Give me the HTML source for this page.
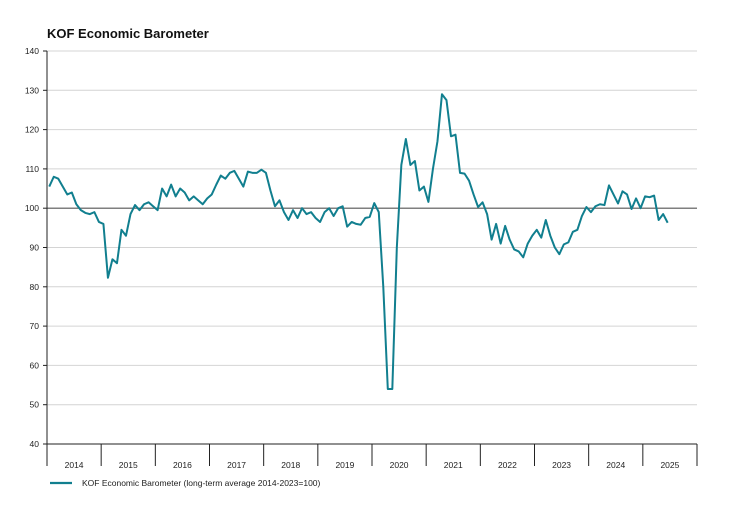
<!DOCTYPE html>
<html><head><meta charset="utf-8"><style>
body{margin:0;background:#fff;font-family:"Liberation Sans",Arial,sans-serif}
svg text{font-family:"Liberation Sans",Arial,sans-serif}
</style></head><body>
<svg id="c" width="739" height="505">
<text x="47" y="38" font-size="13" font-weight="bold" fill="#111">KOF Economic Barometer</text>
<g id="grid"></g><g id="axes"></g><g id="series"></g>
<g>
<line x1="50" y1="483" x2="72" y2="483" stroke="#117f8f" stroke-width="2.2"/>
<text x="82" y="486" font-size="8.5" fill="#222">KOF Economic Barometer (long-term average 2014-2023=100)</text>
</g>
</svg>
<script>
const years=["2014","2015","2016","2017","2018","2019","2020","2021","2022","2023","2024","2025"];
const yTicks=[40,50,60,70,80,90,100,110,120,130,140];
const values=[
105.5,108,107.5,105.5,103.5,104,101,99.5,98.8,98.5,99,96.5,
96,82.3,87,86,94.5,93,98.5,100.8,99.5,101,101.5,100.5,
99.5,105,103,106,103,105,104,102,103,102,101,102.5,
103.5,106,108.3,107.5,109,109.5,107.5,105.5,109.3,109,109,109.8,
109,104.5,100.5,102,99,97,99.5,97.5,100,98.5,99,97.5,
96.5,99,100,98,100,100.5,95.3,96.5,96,95.8,97.5,97.8,
101.3,99,80,54,54,90,111,117.6,111,112,104.5,105.5,
101.6,110,117,129,127.5,118.3,118.7,109,108.8,107,103.5,100.3,
101.5,98.5,92,96,91,95.5,92,89.5,89,87.5,91,93,
94.5,92.5,97,93,90,88.3,90.8,91.3,94,94.5,98,100.3,
99,100.5,101,100.8,105.8,103.5,101.2,104.3,103.5,99.8,102.5,100,
103,102.8,103.2,97,98.5,96.3];
const L=47,R=697,T=51,B=444,NS="http://www.w3.org/2000/svg";
const months=years.length*12;
const xs=i=>L+(i+0.5)*(R-L)/months;
const ys=v=>B-(v-40)/100*(B-T);
function mk(t,a,p){const e=document.createElementNS(NS,t);for(const k in a)e.setAttribute(k,a[k]);p.appendChild(e);return e;}
const g=document.getElementById('grid'),ax=document.getElementById('axes'),s=document.getElementById('series');
yTicks.forEach(v=>{
 const ln=mk('line',{x1:L,x2:R,y1:ys(v),y2:ys(v),stroke:v==100?'#555':'#d4d4d4','stroke-width':v==100?1.2:1},g);
 
 
 const tk=mk('line',{x1:L-4,x2:L,y1:ys(v),y2:ys(v),stroke:'#222'},ax);
 
 
 const t=mk('text',{x:L-8,y:ys(v)+3,'font-size':8.5,'text-anchor':'end',fill:'#222'},ax);
 t.textContent=v;
 
 
});
mk('line',{x1:L,x2:L,y1:T,y2:B,stroke:'#222'},ax);
mk('line',{x1:L,x2:R,y1:B,y2:B,stroke:'#222'},ax);
const yw=(R-L)/years.length;
years.forEach((y,i)=>{
 const tk=mk('line',{x1:L+i*yw,x2:L+i*yw,y1:B,y2:B+22,stroke:'#222'},ax);
 
 
 const t=mk('text',{x:L+(i+0.5)*yw,y:B+24,'font-size':8.5,'text-anchor':'middle',fill:'#222'},ax);
 t.textContent=y;
 
 
});
mk('line',{x1:R,x2:R,y1:B,y2:B+22,stroke:'#222'},ax);
const p=mk('polyline',{points:values.map((v,i)=>xs(i)+','+ys(v)).join(' '),fill:'none',stroke:'#117f8f','stroke-width':2,'stroke-linejoin':'round'},s);


</script>
</body></html>
